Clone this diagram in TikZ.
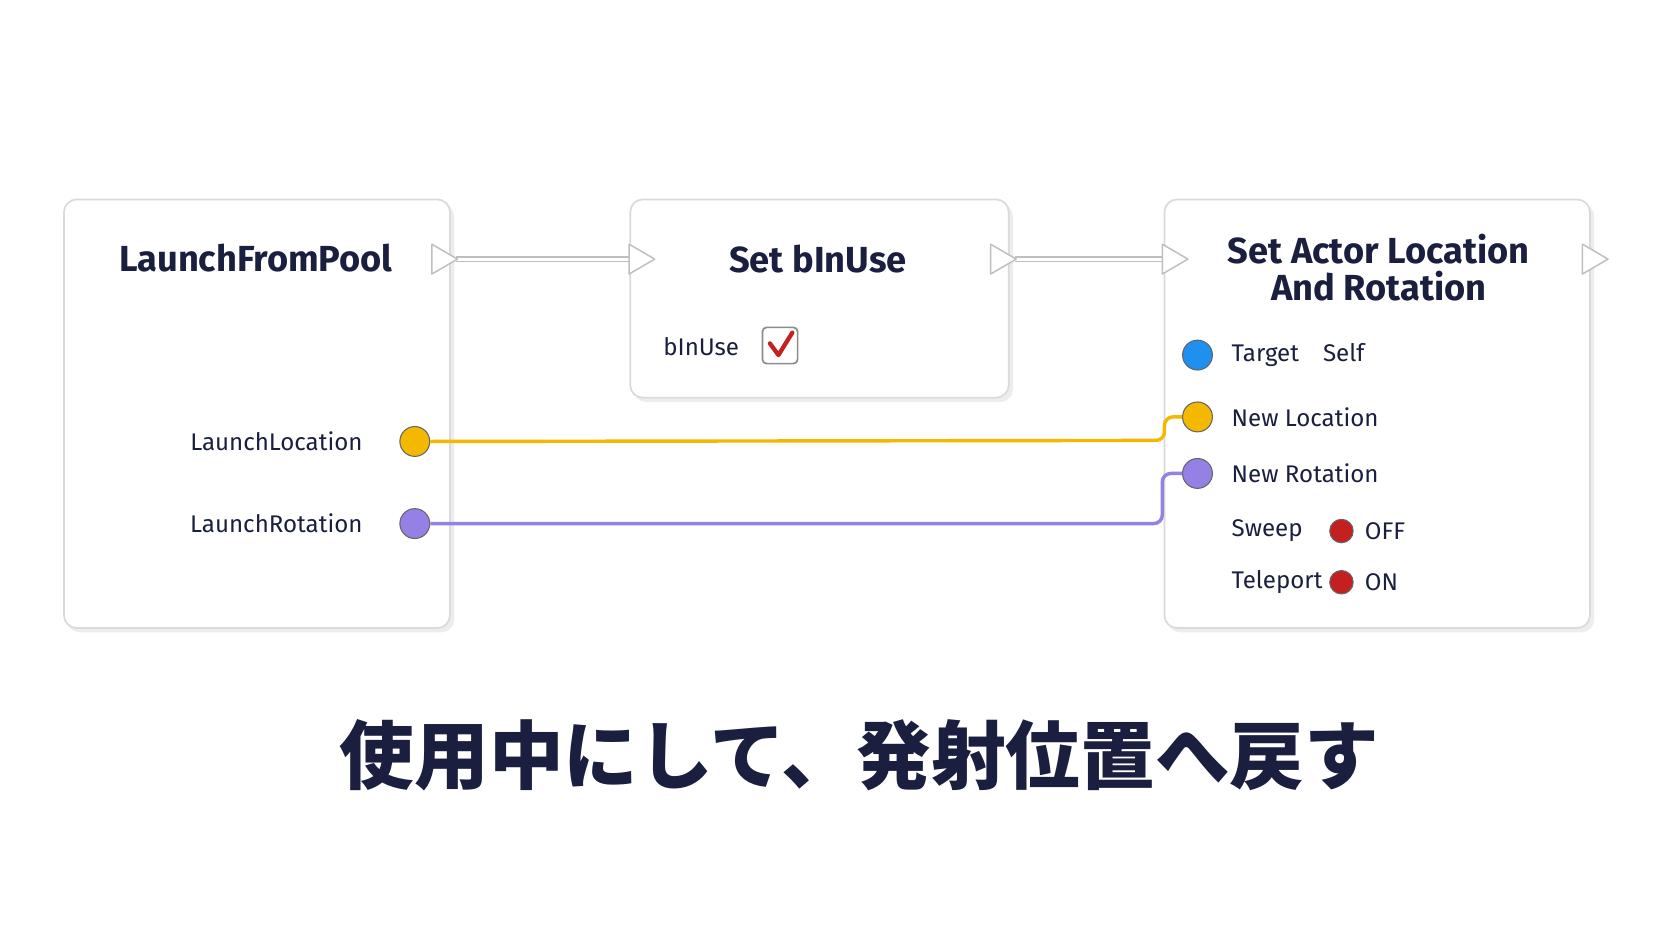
\documentclass[tikz,border=0pt]{standalone}
\usepackage{fontspec}
\setmainfont{Fira Sans}
\newfontfamily\cjk{Noto Sans CJK JP}
\usetikzlibrary{positioning}
\definecolor{ink}{HTML}{1A1F40}
\definecolor{pinY}{HTML}{F5B800}
\definecolor{pinP}{HTML}{9580E6}
\definecolor{pinB}{HTML}{1E90F0}
\definecolor{pinR}{HTML}{C42020}
\definecolor{edge}{HTML}{DADADA}
\tikzset{
  box/.style = {draw = edge, fill = white, rounded corners = 6pt, line width = 0.8pt},
  shade/.style = {fill = black!7, rounded corners = 6pt},
  title/.style = {font = \bfseries\fontsize{17}{20}\selectfont, text = ink, align = center},
  lbl/.style = {font = \fontsize{11.3}{13}\selectfont, text = ink},
  pin/.style = {circle, draw = black!60, line width = 0.5pt, minimum size = 14pt, inner sep = 0pt},
  dot/.style = {circle, draw = black!60, fill = pinR, line width = 0.5pt, minimum size = 11pt, inner sep = 0pt},
  exec/.style = {draw = black!25, fill = white, line width = 0.7pt, line join = round},
  wire/.style = {line width = 1.6pt, rounded corners = 4pt}
}
\newcommand{\execpin}[2]{\draw[exec] (#1,#2+14) -- (#1+24,#2) -- (#1,#2-14) -- cycle;}
\begin{document}
\begin{tikzpicture}[x = 0.5pt, y = -0.5pt]
	\fill[white] (0,0) rectangle (1568,882);
	% node boxes
	\fill[shade] (63,191) rectangle (426,593);
	\draw[box] (60,187) rectangle (422,589);
	\fill[shade] (594,191) rectangle (950,377);
	\draw[box] (591,187) rectangle (946,373);
	\fill[shade] (1095,191) rectangle (1495,593);
	\draw[box] (1092,187) rectangle (1491,589);
	% titles
	\node[title] (launch) at (240,242) {LaunchFromPool};
	\node[title] (setuse) at (767,243) {Set bInUse};
	\node[title] (setloc) at (1293,251) {Set Actor Location\\[-3pt]And Rotation};
	% exec wires
	\foreach \a/\b in {428/592, 952/1092} {
		\draw[black!25, line width = 3pt] (\a,243) -- (\b,243);
		\draw[white, line width = 1.4pt] (\a,243) -- (\b,243);
	}
	\execpin{405}{243} \execpin{590}{243} \execpin{929}{243} \execpin{1090}{243} \execpin{1484}{243}
	% data pins
	\node[pin, fill = pinY] (loc) at (389,414) {};
	\node[pin, fill = pinP] (rot) at (389,491) {};
	\node[pin, fill = pinB] (tgt) at (1123,333) {};
	\node[pin, fill = pinY] (nloc) at (1123,391) {};
	\node[pin, fill = pinP] (nrot) at (1123,444) {};
	\node[lbl, anchor = east] at (347,414) {LaunchLocation};
	\node[lbl, anchor = east] at (347,491) {LaunchRotation};
	\node[lbl, anchor = west] at (1148,333) {Target\quad Self};
	\node[lbl, anchor = west] at (1148,391) {New Location};
	\node[lbl, anchor = west] at (1148,444) {New Rotation};
	\node[lbl, anchor = west] at (1148,498) {Sweep};
	\node[lbl, anchor = west] at (1148,546) {Teleport};
	\node[dot] (swp) at (1258,498) {};
	\node[dot] (tel) at (1258,546) {};
	\node[lbl, anchor = west] at (1273,498) {OFF};
	\node[lbl, anchor = west] at (1273,546) {ON};
	% checkbox
	\node[lbl, anchor = west] at (615,325) {bInUse};
	\draw[black!45, fill = white, rounded corners = 2pt, line width = 0.8pt] (715,307) rectangle (748,341);
	\draw[pinR, line width = 2pt, line cap = round, line join = round] (722,322) -- (730,333) -- (743,312);
	% data wires
	\draw[wire, pinY] (loc.east) -- (1092,413) -- (1092,391) -- (nloc.west);
	\draw[wire, pinP] (rot.east) -- (1090,491) -- (1090,444) -- (nrot.west);
	% caption
	\node[font = \cjk\bfseries\fontsize{35}{40}\selectfont, text = ink] (cap) at (806,708) {使用中にして、発射位置へ戻す};
\end{tikzpicture}
\end{document}
